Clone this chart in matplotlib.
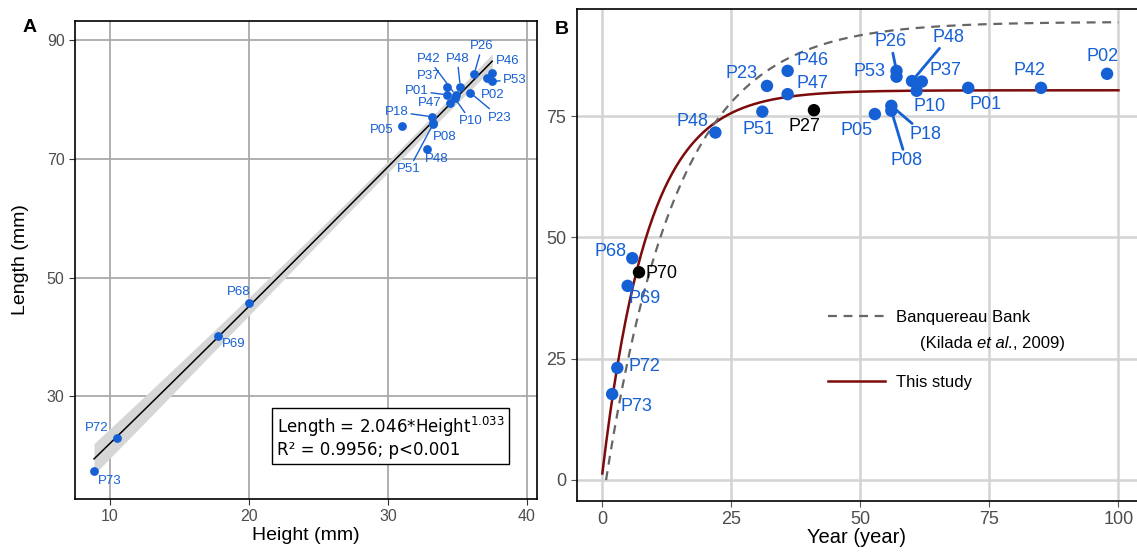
import numpy as np
import matplotlib.pyplot as plt

plt.rcParams['font.family'] = ['Liberation Sans', 'DejaVu Sans']

# ---- Panel A data: height vs length (mm)
ids_a = ['P73', 'P72', 'P69', 'P68', 'P05', 'P18', 'P08', 'P51', 'P48', 'P47',
         'P01', 'P37', 'P42', 'P48', 'P26', 'P46', 'P02', 'P53', 'P23', 'P10']
height_a = [8.85, 10.5, 17.77, 20.0, 31.0, 33.2, 33.26, 33.24, 32.8, 34.46,
            34.27, 34.22, 34.86, 35.2, 36.2, 37.5, 37.15, 37.46, 35.9, 34.82]
length_a = [17.5, 23.0, 40.15, 45.8, 75.5, 77.1, 76.1, 75.85, 71.7, 79.5,
            80.8, 82.1, 80.8, 82.2, 84.3, 84.5, 83.7, 83.1, 81.2, 80.2]

# ---- Panel B data: age (years) vs length (mm)
ids_b = ['P73', 'P72', 'P69', 'P68', 'P70', 'P48', 'P51', 'P23', 'P46', 'P47',
         'P27', 'P05', 'P53', 'P26', 'P48', 'P37', 'P10', 'P01', 'P42', 'P02',
         'P18', 'P08']
age_b = [1.9, 2.9, 4.9, 5.8, 7.1, 21.9, 31.0, 31.9, 35.9, 35.9,
         41.0, 52.8, 57.0, 57.0, 60.0, 61.9, 60.9, 70.9, 85.0, 97.8,
         56.0, 56.0]
length_b = [17.7, 23.1, 40.0, 45.7, 42.8, 71.6, 75.9, 81.2, 84.3, 79.5,
            76.2, 75.4, 83.1, 84.3, 82.2, 82.1, 80.2, 80.8, 80.8, 83.7,
            77.1, 76.1]
black_b = ['P27', 'P70']

# fitted models
a_coef, b_exp = 2.046, 1.033
linf_this, k_this, t0_this = 80.3, 0.113, -0.15
linf_bb, k_bb, t0_bb = 94.4, 0.0717, 0.72

blue = '#1560d4'
darkred = '#7d0b0b'

# label offsets in pixels (dx, dy, draw connector)
offs_a = [(16, -10, 0), (-20, 10, 0), (16, -8, 0), (-10, 11, 0), (-20, -4, 0),
          (-36, 5, 1), (11, -14, 0), (-24, -45, 1), (10, -10, 0), (-20, 0, 0),
          (-31, 4, 1), (-18, 11, 0), (-27, 36, 1), (-3, 28, 1), (8, 28, 1),
          (15, 12, 0), (5, -17, 0), (23, 1, 1), (30, -25, 1), (16, -23, 1)]
offs_b = [(24, -12, 0), (27, 1, 0), (17, -13, 0), (-22, 7, 0), (23, -1, 0),
          (-23, 11, 0), (-4, -18, 0), (-25, 12, 0), (25, 10, 0), (25, 11, 0),
          (-10, -16, 0), (-18, -16, 0), (-27, 5, 0), (-6, 29, 1), (37, 44, 1),
          (24, 11, 0), (13, -16, 0), (17, -17, 0), (-12, 17, 0), (-5, 17, 0),
          (34, -29, 1), (15, -50, 1)]

fig = plt.figure(figsize=(11.37, 5.53), dpi=100)
W, H = 1137, 553
axA = fig.add_axes([75 / W, 1 - 499 / H, (536.7 - 75) / W, (499 - 20.7) / H])
axB = fig.add_axes([576.7 / W, 1 - 501 / H, (W - 576.7) / W, (501 - 9) / H])

# ---------------- Panel A
h = np.array(height_a)
L = np.array(length_a)
n = len(h)
# confidence band from a linear fit in natural units
slope, icpt = np.polyfit(h, L, 1)
resid = L - (icpt + slope * h)
s = np.sqrt(np.sum(resid ** 2) / (n - 2))
sxx = np.sum((h - h.mean()) ** 2)
hh = np.linspace(h.min(), h.max(), 200)
fit = a_coef * hh ** b_exp
half = 2.1 * s * np.sqrt(1 / n + (hh - h.mean()) ** 2 / sxx)
axA.fill_between(hh, fit - half, fit + half, color='#d6d6d6', lw=0, zorder=2)
axA.plot(hh, fit, color='black', lw=1.1, zorder=3)
axA.scatter(h, L, s=40, color=blue, zorder=4, lw=0)
for lab, hx, ly, (dx, dy, ln) in zip(ids_a, height_a, length_a, offs_a):
    ap = dict(arrowstyle='-', color=blue, lw=1.0, shrinkA=0, shrinkB=3) if ln else None
    axA.annotate(lab, (hx, ly), xytext=(dx, dy), textcoords='offset pixels',
                 ha='center', va='center', fontsize=9.5, color=blue,
                 arrowprops=ap, zorder=5)

axA.set_xlim(7.48, 40.7)
axA.set_ylim(12.7, 93.3)
axA.set_xticks([10, 20, 30, 40])
axA.set_yticks([30, 50, 70, 90])
axA.grid(True, color='#aaaaaa', lw=1.3)
axA.set_axisbelow(True)
axA.tick_params(labelsize=11.5, labelcolor='#4d4d4d', color='#333333', length=4)
for sp in axA.spines.values():
    sp.set_linewidth(1.2)
axA.set_xlabel('Height (mm)', fontsize=14, labelpad=2)
axA.set_ylabel('Length (mm)', fontsize=14, labelpad=13)
axA.text(0.437, 0.176,
         'Length = 2.046*Height$^{\\mathregular{1.033}}$\nR² = 0.9956; p<0.001',
         transform=axA.transAxes, fontsize=12, family='DejaVu Sans',
         va='top', ha='left', linespacing=1.15,
         bbox=dict(boxstyle='square,pad=0.3', fc='white', ec='black', lw=1.0))

# ---------------- Panel B
t = np.linspace(0, 100, 400)
axB.plot(t, linf_this * (1 - np.exp(-k_this * (t - t0_this))), color=darkred,
         lw=1.8, zorder=3, label='This study')
tb = np.linspace(t0_bb, 100, 400)
axB.plot(tb, linf_bb * (1 - np.exp(-k_bb * (tb - t0_bb))), color='#666666',
         lw=1.6, ls=(0, (4, 3)), zorder=3, label='Banquereau Bank')
cols = ['black' if i in black_b else blue for i in ids_b]
axB.scatter(age_b, length_b, s=80, c=cols, zorder=4, lw=0)
for lab, ax_, ly, c, (dx, dy, ln) in zip(ids_b, age_b, length_b, cols, offs_b):
    ap = dict(arrowstyle='-', color=blue, lw=2.0, shrinkA=0, shrinkB=3) if ln else None
    axB.annotate(lab, (ax_, ly), xytext=(dx, dy), textcoords='offset pixels',
                 ha='center', va='center', fontsize=13, color=c,
                 arrowprops=ap, zorder=5)

axB.set_xlim(-4.97, 103.6)
axB.set_ylim(-4.33, 97.05)
axB.set_xticks([0, 25, 50, 75, 100])
axB.set_yticks([0, 25, 50, 75])
axB.grid(True, color='#d3d3d3', lw=1.8)
axB.set_axisbelow(True)
axB.tick_params(labelsize=13, labelcolor='#4d4d4d', color='#555555', length=4)
axB.spines['right'].set_visible(False)
for sp in axB.spines.values():
    sp.set_linewidth(1.2)
axB.set_xlabel('Year (year)', fontsize=14.5, labelpad=0)

handles, labels = axB.get_legend_handles_labels()
leg = axB.legend(handles[::-1], labels[::-1], frameon=False, fontsize=12,
                 loc='upper left', bbox_to_anchor=(0.4485, 0.388),
                 borderpad=0, borderaxespad=0, handlelength=3.4,
                 handletextpad=0.7, labelspacing=3.0)
# citation line under the first legend entry, "et al." in italics
c1 = axB.text(0.6127, 0.321, '(Kilada ', transform=axB.transAxes,
              fontsize=12, ha='left', va='center')
c2 = axB.annotate('et al.', xy=(1, 0), xycoords=c1, fontsize=12,
                  fontstyle='italic', ha='left', va='bottom')
axB.annotate(', 2009)', xy=(1, 0), xycoords=c2, fontsize=12,
             ha='left', va='bottom')

fig.text(30 / W, 1 - 28 / H, 'A', fontsize=14, fontweight='bold', ha='center', va='center')
fig.text(562 / W, 1 - 30 / H, 'B', fontsize=14, fontweight='bold', ha='center', va='center')

fig.savefig('out.png', dpi=100)
